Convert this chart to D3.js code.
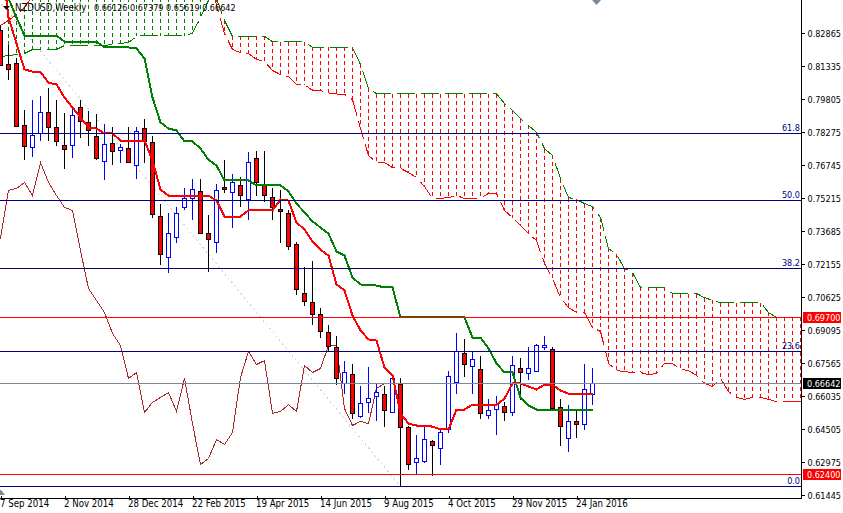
<!DOCTYPE html>
<html>
<head>
<meta charset="utf-8">
<title>NZDUSD Weekly</title>
<script src="https://cdn.jsdelivr.net/npm/d3@7"></script>
<style>
  html, body { margin: 0; padding: 0; background: #fff; overflow: hidden; }
  text { font-family: "DejaVu Sans Condensed", "Noto Sans", sans-serif; font-size: 9.6px; fill: #000; white-space: pre; }
  .num { font-size: 9px; }
</style>
</head>
<body>
<div id="chart"></div>
<script>
// weekly candles, one entry per bar starting at 7 Sep 2014
const opens = [.8300,.8143,.8147,.7860,.7758,.7823,.7920,.7851,.7767,.7767,.7943,.7874,.7809,.7693,.7776,.7744,.7753,.7674,.7846,.7781,.7438,.7248,.7341,.7480,.7522,.7554,.7359,.7317,.7572,.7549,.7582,.7517,.7707,.7586,.7526,.7470,.7452,.7308,.7081,.7039,.6984,.6900,.6831,.6664,.6705,.6511,.6576,.6604,.6613,.6529,.6659,.6460,.6298,.6302,.6395,.6362,.6451,.6668,.6803,.6743,.6729,.6516,.6543,.6557,.6529,.6733,.6710,.6719,.6831,.6821,.6553,.6409,.6488,.6474,.66126];
const highs = [.8324,.8231,.8171,.7930,.7976,.7999,.8036,.7976,.7916,.7939,.7976,.7925,.7911,.7869,.7851,.7772,.7851,.7851,.7892,.7809,.7494,.7452,.7484,.7572,.7614,.7610,.7443,.7591,.7698,.7633,.7619,.7739,.7744,.7744,.7572,.7563,.7466,.7322,.7202,.7234,.7012,.6933,.6882,.6770,.6752,.6654,.6738,.6664,.6650,.6710,.6687,.6469,.6427,.6460,.6400,.6455,.6724,.6900,.6868,.6808,.6789,.6590,.6608,.6580,.6789,.6784,.6835,.6845,.6882,.6835,.6590,.6562,.6539,.6752,.67379];
const lows = [.8138,.8069,.7855,.7702,.7712,.7790,.7790,.7763,.7656,.7707,.7804,.7763,.7698,.7605,.7679,.7688,.7688,.7614,.7684,.7429,.7215,.7178,.7313,.7466,.7420,.7359,.7183,.7271,.7549,.7387,.7480,.7420,.7535,.7503,.7420,.7313,.7285,.7076,.7021,.6937,.6877,.6808,.6659,.6617,.6497,.6502,.6529,.6488,.6464,.6529,.6186,.6265,.6242,.6293,.6233,.6284,.6432,.6613,.6696,.6617,.6497,.6497,.6427,.6488,.6511,.6585,.6678,.6715,.6821,.6548,.6376,.6344,.6413,.6446,.65619];
const closes = [.8138,.8120,.7855,.7763,.7814,.7920,.7851,.7786,.7749,.7906,.7879,.7837,.7707,.7772,.7739,.7758,.7688,.7832,.7786,.7447,.7262,.7359,.7452,.7522,.7563,.7359,.7331,.7559,.7563,.7596,.7535,.7688,.7596,.7535,.7480,.7461,.7299,.7100,.7044,.6984,.6905,.6835,.6687,.6715,.6525,.6571,.6594,.6622,.6539,.6687,.6460,.6288,.6316,.6404,.6376,.6437,.6696,.6812,.6752,.6775,.6525,.6539,.6566,.6529,.6747,.6715,.6733,.6840,.6840,.6548,.6464,.6488,.6474,.6636,.66642];

// ichimoku lines, same bar index
const tenkan = [.8676,.8361,.8240,.8120,.8110,.8108,.8059,.8050,.7990,.7943,.7897,.7851,.7846,.7823,.7823,.7790,.7790,.7790,.7790,.7698,.7563,.7535,.7535,.7535,.7535,.7535,.7535,.7512,.7438,.7438,.7438,.7466,.7466,.7466,.7466,.7517,.7512,.7410,.7378,.7322,.7285,.7257,.7123,.7095,.6979,.6910,.6868,.6863,.6738,.6701,.6525,.6478,.6469,.6467,.6464,.6451,.6451,.6543,.6543,.6566,.6566,.6566,.6566,.6594,.6664,.6664,.6650,.6636,.6659,.6659,.6631,.6617,.6617,.6617,.6617];
const kijun = [.8532,.8449,.8361,.8277,.8277,.8277,.8277,.8277,.8249,.8249,.8249,.8249,.8249,.8222,.8222,.8222,.8222,.8217,.8171,.7990,.7874,.7846,.7837,.7786,.7786,.7753,.7702,.7674,.7605,.7605,.7605,.7605,.7582,.7582,.7582,.7582,.7554,.7498,.7457,.7415,.7387,.7359,.7276,.7257,.7155,.7123,.7120,.7118,.7109,.7109,.6970,.6970,.6970,.6970,.6970,.6970,.6970,.6970,.6970,.6877,.6877,.6826,.6757,.6715,.6715,.6599,.6562,.6543,.6543,.6543,.6543,.6543,.6543,.6543,.6543];
const chikou = [.7336,.7559,.7568,.7596,.7535,.7688,.7596,.7535,.7480,.7466,.7280,.7104,.7049,.6993,.6896,.6840,.6687,.6715,.6529,.6576,.6599,.6622,.6534,.6687,.6478,.6288,.6316,.6404,.6381,.6437,.6692,.6812,.6752,.6770,.6525,.6534,.6566,.6534,.6747,.6715,.6733,.6840,.6840,.6548,.6469,.6488,.6478,.6641,.6664];

// cloud edges run 26 bars past the last candle
const spanGreen = [.8180,.8184,.8189,.8194,.8212,.8212,.8212,.8212,.8231,.8231,.8231,.8231,.8231,.8231,.8236,.8240,.8245,.8273,.8277,.8277,.8277,.8277,.8277,.8277,.8287,.8361,.8440,.8449,.8347,.8273,.8273,.8273,.8273,.8273,.8249,.8249,.8249,.8249,.8249,.8222,.8222,.8222,.8222,.8222,.8222,.8143,.8032,.8008,.8008,.8008,.8008,.8008,.8008,.8008,.8008,.8008,.8008,.8008,.8008,.8008,.8008,.8008,.8008,.7962,.7930,.7892,.7860,.7828,.7753,.7721,.7614,.7526,.7517,.7498,.7484,.7433,.7290,.7262,.7197,.7178,.7109,.7109,.7109,.7109,.7081,.7081,.7081,.7081,.7062,.7049,.7039,.7039,.7039,.7039,.7039,.7039,.6993,.6970,.6970,.6970,.6970];
const spanRed = [.8324,.8347,.8375,.8407,.8458,.8579,.8579,.8579,.8579,.8579,.8579,.8579,.8579,.8579,.8579,.8579,.8579,.8579,.8579,.8579,.8579,.8579,.8579,.8579,.8579,.8579,.8579,.8416,.8287,.8212,.8198,.8194,.8166,.8157,.8115,.8096,.8087,.8050,.8050,.8022,.8022,.8008,.8006,.8004,.7980,.7846,.7721,.7688,.7688,.7665,.7661,.7642,.7619,.7577,.7522,.7522,.7526,.7535,.7522,.7522,.7522,.7545,.7545,.7466,.7433,.7396,.7359,.7327,.7220,.7151,.7062,.7016,.6993,.6993,.6923,.6905,.6757,.6724,.6719,.6715,.6715,.6705,.6710,.6757,.6757,.6729,.6724,.6701,.6664,.6650,.6687,.6627,.6599,.6590,.6599,.6599,.6590,.6580,.6580,.6580,.6580];

// fibonacci retracement drawn over the fall
const fibLow = { bar: 50, price: .6186 };
const fibHigh = { bar: -9, price: .8834 };
const fibPrices = [.6186, .6811, .7196, .7510, .7823];
const fibLabels = ["0.0", "23.6", "38.2", "50.0", "61.8"];

// red support / resistance lines and last price
const levels = [.6970, .6240];
const lastPrice = .66642;

const priceTicks = [.82865,.81335,.79805,.78275,.76745,.75215,.73685,.72155,.70625,.69095,.67565,.66035,.64505,.62975,.61445];
const dateTickBars = [0, 8, 16, 24, 32, 40, 48, 56, 64, 72];
const dateTickLabels = ["7 Sep 2014", "2 Nov 2014", "28 Dec 2014", "22 Feb 2015", "19 Apr 2015", "14 Jun 2015", "9 Aug 2015", "4 Oct 2015", "29 Nov 2015", "24 Jan 2016"];
const titleName = "NZDUSD,Weekly";
const titleValues = "0.66126 0.67379 0.65619 0.66642";

const width = 843;
const height = 513;
const plotRight = 801;
const plotBottom = 498;

const x = d3.scaleLinear().domain([0, 100]).range([0.5, 800.5]);
const y = d3.scaleLinear().domain([.61445, .82865]).range([495, 33]);

const svg = d3.select("#chart").append("svg")
  .attr("width", width)
  .attr("height", height)
  .style("display", "block");

svg.append("defs").append("clipPath").attr("id", "plot")
  .append("rect").attr("width", plotRight).attr("height", plotBottom);

// half pixel shift so 1px lines land on the same rows as the terminal draws them
const plot = svg.append("g")
  .attr("clip-path", "url(#plot)")
  .append("g")
  .attr("transform", "translate(0,0.5)")
  .attr("shape-rendering", "crispEdges");

// cloud hatching, colour depends on which edge is on top
plot.selectAll(".hatch")
  .data(spanGreen)
  .join("line")
  .attr("class", "hatch")
  .attr("x1", (_, i) => x(i))
  .attr("x2", (_, i) => x(i))
  .attr("y1", (d, i) => y(Math.max(d, spanRed[i])))
  .attr("y2", (d, i) => y(Math.min(d, spanRed[i])))
  .attr("stroke", (d, i) => d > spanRed[i] ? "#ff0000" : "#008000")
  .attr("stroke-dasharray", "4 3");

const lineGen = d3.line().x((_, i) => x(i)).y(d => y(d));

plot.append("path").datum(spanGreen).attr("d", lineGen)
  .attr("fill", "none").attr("stroke", "#008000").attr("stroke-dasharray", "18 6");
plot.append("path").datum(spanRed).attr("d", lineGen)
  .attr("fill", "none").attr("stroke", "#ff0000").attr("stroke-dasharray", "18 6");

// trend line of the fib tool
plot.append("line")
  .attr("x1", x(fibHigh.bar)).attr("y1", y(fibHigh.price))
  .attr("x2", x(fibLow.bar)).attr("y2", y(fibLow.price))
  .attr("stroke", "#d3d3d3")
  .attr("stroke-dasharray", "2 3");

plot.append("path").datum(chikou).attr("d", lineGen)
  .attr("fill", "none").attr("stroke", "#a52a2a");

// candles
const candle = plot.selectAll(".candle")
  .data(opens)
  .join("g")
  .attr("class", "candle");

candle.append("line")
  .attr("x1", (_, i) => x(i))
  .attr("x2", (_, i) => x(i))
  .attr("y1", (_, i) => y(highs[i]))
  .attr("y2", (_, i) => y(lows[i]))
  .attr("stroke", (d, i) => closes[i] >= d ? "#0000ff" : "#000");

candle.append("rect")
  .attr("x", (_, i) => x(i) - 2)
  .attr("width", 4)
  .attr("y", (d, i) => y(Math.max(d, closes[i])))
  .attr("height", (d, i) => Math.abs(y(d) - y(closes[i])))
  .attr("fill", (d, i) => closes[i] >= d ? "#fff" : "#ff0000")
  .attr("stroke", (d, i) => closes[i] >= d ? "#0000ff" : "#000");

plot.append("path").datum(kijun).attr("d", lineGen)
  .attr("fill", "none").attr("stroke", "#008000").attr("stroke-width", 2);
plot.append("path").datum(tenkan).attr("d", lineGen)
  .attr("fill", "none").attr("stroke", "#ff0000").attr("stroke-width", 2);

// horizontal objects sit on top of the indicators
plot.selectAll(".fib")
  .data(fibPrices)
  .join("line")
  .attr("class", "fib")
  .attr("x1", 0).attr("x2", plotRight)
  .attr("y1", d => y(d)).attr("y2", d => y(d))
  .attr("stroke", "#000080");

plot.selectAll(".level")
  .data(levels)
  .join("line")
  .attr("class", "level")
  .attr("x1", 0).attr("x2", plotRight)
  .attr("y1", d => y(d)).attr("y2", d => y(d))
  .attr("stroke", "#ff0000");

plot.append("line")
  .attr("x1", 0).attr("x2", plotRight)
  .attr("y1", y(lastPrice)).attr("y2", y(lastPrice))
  .attr("stroke", "#778899");

svg.selectAll(".fib-label")
  .data(fibPrices)
  .join("text")
  .attr("class", "fib-label num")
  .attr("x", 800)
  .attr("y", d => y(d) - 2)
  .attr("text-anchor", "end")
  .style("fill", "#000080")
  .text((_, i) => fibLabels[i]);

// axes
const yAxis = d3.axisRight(y)
  .tickValues(priceTicks)
  .tickFormat(d3.format(".5f"))
  .tickSize(3)
  .tickPadding(3);

const yAxisG = svg.append("g")
  .attr("transform", `translate(${plotRight + 0.5},0)`)
  .call(yAxis);
yAxisG.select(".domain").remove();
yAxisG.selectAll("line").attr("shape-rendering", "crispEdges");
yAxisG.selectAll("text").attr("dy", "3.5px").attr("class", "num");

const xAxis = d3.axisBottom(x)
  .tickValues(dateTickBars)
  .tickFormat((_, i) => dateTickLabels[i])
  .tickSize(-3)
  .tickPadding(3);

const xAxisG = svg.append("g")
  .attr("transform", `translate(0,${plotBottom + 0.5})`)
  .call(xAxis);
xAxisG.select(".domain").remove();
xAxisG.selectAll("line").attr("shape-rendering", "crispEdges");
xAxisG.selectAll("text").attr("text-anchor", "start").attr("x", -1).attr("y", 2);

svg.append("line")
  .attr("x1", plotRight + 0.5).attr("x2", plotRight + 0.5)
  .attr("y1", 0).attr("y2", plotBottom)
  .attr("stroke", "#000").attr("shape-rendering", "crispEdges");
svg.append("line")
  .attr("x1", 0).attr("x2", plotRight + 1)
  .attr("y1", plotBottom + 0.5).attr("y2", plotBottom + 0.5)
  .attr("stroke", "#000").attr("shape-rendering", "crispEdges");

// price tags on the right
const tags = [
  { price: levels[0], fill: "#ff0000" },
  { price: levels[1], fill: "#ff0000" },
  { price: lastPrice, fill: "#000" }
];
svg.selectAll(".tag")
  .data(tags)
  .join("rect")
  .attr("class", "tag")
  .attr("x", 803)
  .attr("width", 38)
  .attr("y", d => Math.round(y(d.price)) - 5)
  .attr("height", 11)
  .attr("fill", d => d.fill);
svg.selectAll(".tag-text")
  .data(tags)
  .join("text")
  .attr("class", "tag-text num")
  .attr("x", 807)
  .attr("y", d => Math.round(y(d.price)) + 4)
  .style("fill", "#fff")
  .text(d => d3.format(".5f")(d.price));

// title and the small terminal markers
svg.append("text").attr("x", 15).attr("y", 11).text(titleName);
svg.append("text").attr("class", "num").attr("x", 94).attr("y", 11).text(titleValues);
svg.append("path").attr("d", "M3,6L10,6L6.5,10Z").attr("fill", "#000");
svg.append("path").attr("d", "M592,0L601,0L596.5,5Z").attr("fill", "#778899");
svg.append("path").attr("d", "M0,495L5,495L1,490L0,490Z").attr("fill", "#778899");
</script>
</body>
</html>
